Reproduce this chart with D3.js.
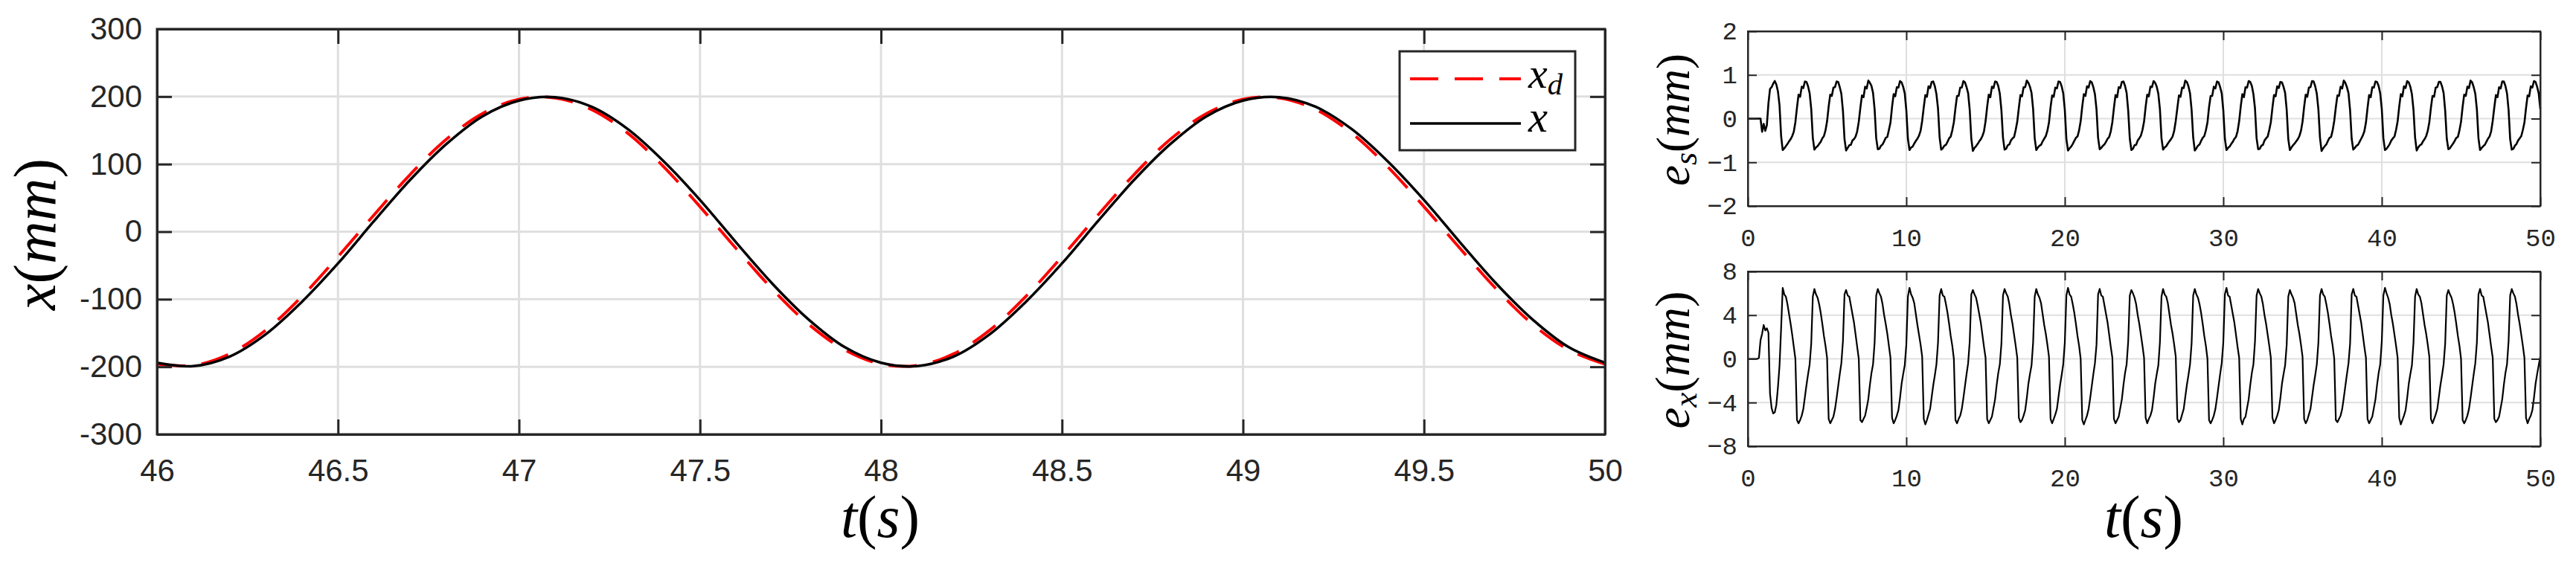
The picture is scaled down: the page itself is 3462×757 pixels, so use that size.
<!DOCTYPE html>
<html>
<head>
<meta charset="utf-8">
<script src="https://cdnjs.cloudflare.com/ajax/libs/d3/7.8.5/d3.min.js"></script>
<style>
  html, body { margin: 0; padding: 0; background: #fff; }
  svg { display: block; }
</style>
</head>
<body>
<svg id="chart" width="3462" height="757"></svg>
<script>
// ---- tracking panel (46 s .. 50 s, sampled every 0.1 s) ----
const trackTime = d3.range(41).map((i) => 46 + i / 10);
const xDesired = [
  -196, -198, -181, -146, -96, -37, 25, 85, 137, 175,
  196, 198, 181, 146, 96, 37, -25, -85, -137, -175,
  -196, -198, -181, -146, -96, -37, 25, 85, 137, 175,
  196, 198, 181, 146, 96, 37, -25, -85, -137, -175,
  -196,
];
const xActual = [
  -194, -199, -185, -152, -104, -47, 16, 77, 130, 171,
  194, 199, 185, 152, 104, 47, -16, -77, -130, -171,
  -194, -199, -185, -152, -104, -47, 16, 77, 130, 171,
  194, 199, 185, 152, 104, 47, -16, -77, -130, -171,
  -194,
];
const trackTicksX = [46, 46.5, 47, 47.5, 48, 48.5, 49, 49.5, 50];
const trackTicksY = [-300, -200, -100, 0, 100, 200, 300];

// ---- error panels (0 s .. 50 s, sampled every 0.1 s, one row = 2 s) ----
const errTime = d3.range(501).map((i) => i / 10);
const esValues = [
  0, 0, 0, 0, 0, 0, 0, 0, 0, -0.30, -0.12, -0.28, -0.15, 0.35, 0.68, 0.72, 0.80, 0.86, 0.78, 0.62,
  0.30, -0.40, -0.72, -0.68, -0.63, -0.58, -0.52, -0.47, -0.40, -0.30, -0.08, 0.25, 0.55, 0.50, 0.73, 0.70, 0.85, 0.84, 0.74, 0.58,
  0.22, -0.44, -0.71, -0.66, -0.63, -0.58, -0.53, -0.45, -0.40, -0.27, -0.06, 0.28, 0.55, 0.52, 0.71, 0.72, 0.85, 0.84, 0.72, 0.57,
  0.18, -0.47, -0.73, -0.67, -0.61, -0.60, -0.50, -0.47, -0.41, -0.29, -0.07, 0.25, 0.53, 0.49, 0.73, 0.69, 0.87, 0.82, 0.75, 0.59,
  0.21, -0.45, -0.70, -0.69, -0.62, -0.59, -0.52, -0.44, -0.42, -0.26, -0.09, 0.27, 0.56, 0.51, 0.72, 0.71, 0.86, 0.83, 0.73, 0.58,
  0.19, -0.46, -0.72, -0.66, -0.64, -0.57, -0.51, -0.46, -0.39, -0.28, -0.05, 0.26, 0.54, 0.50, 0.74, 0.70, 0.84, 0.85, 0.74, 0.56,
  0.23, -0.43, -0.71, -0.68, -0.62, -0.60, -0.53, -0.45, -0.41, -0.27, -0.08, 0.24, 0.52, 0.52, 0.71, 0.71, 0.86, 0.83, 0.72, 0.58,
  0.20, -0.46, -0.74, -0.67, -0.63, -0.58, -0.52, -0.47, -0.40, -0.29, -0.06, 0.27, 0.55, 0.49, 0.73, 0.70, 0.85, 0.84, 0.75, 0.57,
  0.19, -0.44, -0.71, -0.69, -0.61, -0.59, -0.50, -0.45, -0.42, -0.26, -0.07, 0.25, 0.54, 0.51, 0.72, 0.72, 0.87, 0.82, 0.73, 0.59,
  0.22, -0.45, -0.72, -0.66, -0.62, -0.60, -0.52, -0.46, -0.40, -0.28, -0.09, 0.26, 0.53, 0.50, 0.71, 0.69, 0.85, 0.84, 0.74, 0.58,
  0.20, -0.47, -0.73, -0.68, -0.64, -0.58, -0.51, -0.44, -0.41, -0.27, -0.06, 0.28, 0.56, 0.52, 0.74, 0.71, 0.86, 0.83, 0.72, 0.56,
  0.21, -0.44, -0.70, -0.67, -0.62, -0.59, -0.53, -0.46, -0.42, -0.29, -0.08, 0.25, 0.54, 0.49, 0.72, 0.70, 0.84, 0.85, 0.75, 0.59,
  0.18, -0.46, -0.72, -0.69, -0.61, -0.60, -0.50, -0.45, -0.39, -0.26, -0.07, 0.27, 0.55, 0.51, 0.73, 0.72, 0.86, 0.82, 0.73, 0.57,
  0.22, -0.45, -0.71, -0.66, -0.63, -0.57, -0.52, -0.47, -0.41, -0.28, -0.05, 0.24, 0.53, 0.50, 0.71, 0.70, 0.87, 0.84, 0.74, 0.58,
  0.20, -0.43, -0.73, -0.68, -0.62, -0.59, -0.51, -0.44, -0.40, -0.27, -0.09, 0.26, 0.52, 0.52, 0.73, 0.69, 0.85, 0.83, 0.72, 0.58,
  0.19, -0.46, -0.72, -0.67, -0.64, -0.58, -0.53, -0.46, -0.42, -0.29, -0.06, 0.28, 0.56, 0.49, 0.72, 0.71, 0.86, 0.84, 0.75, 0.56,
  0.23, -0.45, -0.70, -0.69, -0.62, -0.60, -0.50, -0.45, -0.41, -0.26, -0.08, 0.25, 0.54, 0.51, 0.74, 0.70, 0.84, 0.83, 0.73, 0.59,
  0.20, -0.47, -0.72, -0.66, -0.61, -0.57, -0.52, -0.47, -0.40, -0.28, -0.07, 0.27, 0.55, 0.50, 0.71, 0.72, 0.86, 0.85, 0.74, 0.57,
  0.21, -0.44, -0.74, -0.68, -0.63, -0.59, -0.51, -0.44, -0.42, -0.27, -0.05, 0.26, 0.53, 0.52, 0.73, 0.69, 0.87, 0.82, 0.72, 0.58,
  0.19, -0.46, -0.71, -0.67, -0.62, -0.60, -0.53, -0.46, -0.39, -0.29, -0.09, 0.24, 0.54, 0.49, 0.72, 0.71, 0.85, 0.84, 0.75, 0.58,
  0.22, -0.45, -0.72, -0.69, -0.64, -0.58, -0.50, -0.45, -0.41, -0.26, -0.06, 0.28, 0.56, 0.51, 0.74, 0.70, 0.86, 0.83, 0.73, 0.56,
  0.20, -0.43, -0.73, -0.66, -0.61, -0.59, -0.52, -0.47, -0.40, -0.28, -0.08, 0.25, 0.52, 0.50, 0.71, 0.72, 0.84, 0.84, 0.74, 0.59,
  0.18, -0.46, -0.70, -0.68, -0.62, -0.57, -0.51, -0.44, -0.42, -0.27, -0.07, 0.27, 0.55, 0.52, 0.73, 0.70, 0.87, 0.83, 0.72, 0.57,
  0.21, -0.45, -0.72, -0.67, -0.63, -0.60, -0.53, -0.46, -0.41, -0.29, -0.05, 0.26, 0.54, 0.49, 0.72, 0.69, 0.85, 0.85, 0.75, 0.58,
  0.20, -0.47, -0.71, -0.69, -0.62, -0.58, -0.50, -0.45, -0.40, -0.26, -0.09, 0.24, 0.53, 0.51, 0.74, 0.71, 0.86, 0.84, 0.73, 0.58,
  0.22,
];
const exValues = [
  0, 0, 0, 0, 0, 0, 0, 0.1, 1.7, 2.3, 3.1, 2.6, 2.8, 2.4, -3.2, -4.5, -5.0, -4.9, -4.2, -2.6,
  -0.6, 2.8, 6.5, 5.9, 5.7, 5.0, 4.1, 3.2, 2.2, 1.1, 0.0, -5.6, -5.9, -5.6, -5.2, -4.6, -3.5, -2.4, -1.4, -0.5,
  1.4, 5.7, 6.4, 5.9, 5.6, 5.0, 4.2, 3.2, 2.1, 1.2, 0.1, -5.5, -5.9, -5.6, -5.3, -4.6, -3.6, -2.5, -1.4, -0.4,
  1.6, 5.9, 6.3, 5.8, 5.7, 4.9, 4.1, 3.3, 2.2, 1.1, 0.0, -5.6, -5.8, -5.5, -5.2, -4.5, -3.7, -2.4, -1.3, -0.5,
  1.5, 5.8, 6.4, 6.0, 5.7, 5.0, 4.0, 3.2, 2.3, 1.2, 0.1, -5.4, -5.9, -5.6, -5.2, -4.7, -3.6, -2.3, -1.4, -0.6,
  1.3, 5.7, 6.5, 5.9, 5.6, 5.1, 4.1, 3.1, 2.2, 1.3, 0.2, -5.5, -6.0, -5.6, -5.1, -4.6, -3.5, -2.4, -1.5, -0.5,
  1.5, 5.8, 6.4, 5.8, 5.7, 5.0, 4.2, 3.2, 2.1, 1.2, 0.0, -5.6, -5.9, -5.5, -5.2, -4.6, -3.6, -2.5, -1.4, -0.4,
  1.6, 5.9, 6.3, 5.9, 5.6, 4.9, 4.1, 3.3, 2.2, 1.1, 0.1, -5.5, -5.9, -5.6, -5.3, -4.5, -3.7, -2.4, -1.3, -0.5,
  1.4, 5.8, 6.4, 6.0, 5.7, 5.0, 4.0, 3.2, 2.2, 1.2, 0.1, -5.4, -5.8, -5.6, -5.2, -4.7, -3.6, -2.3, -1.4, -0.6,
  1.5, 5.7, 6.4, 5.9, 5.6, 5.1, 4.1, 3.1, 2.3, 1.3, 0.2, -5.5, -5.9, -5.5, -5.1, -4.6, -3.5, -2.4, -1.5, -0.5,
  1.5, 5.8, 6.5, 5.9, 5.7, 5.0, 4.2, 3.2, 2.1, 1.2, 0.0, -5.6, -6.0, -5.6, -5.2, -4.6, -3.6, -2.5, -1.4, -0.4,
  1.3, 5.9, 6.4, 5.8, 5.7, 4.9, 4.1, 3.3, 2.2, 1.1, 0.1, -5.5, -5.9, -5.6, -5.3, -4.5, -3.7, -2.4, -1.3, -0.5,
  1.6, 5.8, 6.3, 6.0, 5.6, 5.0, 4.0, 3.2, 2.2, 1.2, 0.1, -5.4, -5.9, -5.5, -5.2, -4.7, -3.6, -2.3, -1.4, -0.6,
  1.5, 5.7, 6.4, 5.9, 5.7, 5.1, 4.1, 3.1, 2.3, 1.3, 0.2, -5.5, -5.8, -5.6, -5.1, -4.6, -3.5, -2.4, -1.5, -0.5,
  1.4, 5.8, 6.4, 5.9, 5.6, 5.0, 4.2, 3.2, 2.1, 1.2, 0.0, -5.6, -5.9, -5.6, -5.2, -4.6, -3.6, -2.5, -1.4, -0.4,
  1.5, 5.9, 6.5, 5.8, 5.7, 4.9, 4.1, 3.3, 2.2, 1.1, 0.1, -5.5, -6.0, -5.5, -5.3, -4.5, -3.7, -2.4, -1.3, -0.5,
  1.6, 5.8, 6.4, 6.0, 5.7, 5.0, 4.0, 3.2, 2.2, 1.2, 0.1, -5.4, -5.9, -5.6, -5.2, -4.7, -3.6, -2.3, -1.4, -0.6,
  1.3, 5.7, 6.3, 5.9, 5.6, 5.1, 4.1, 3.1, 2.3, 1.3, 0.2, -5.5, -5.9, -5.6, -5.1, -4.6, -3.5, -2.4, -1.5, -0.5,
  1.5, 5.8, 6.4, 5.9, 5.7, 5.0, 4.2, 3.2, 2.1, 1.2, 0.0, -5.6, -5.8, -5.5, -5.2, -4.6, -3.6, -2.5, -1.4, -0.4,
  1.4, 5.9, 6.4, 5.8, 5.7, 4.9, 4.1, 3.3, 2.2, 1.1, 0.1, -5.5, -5.9, -5.6, -5.3, -4.5, -3.7, -2.4, -1.3, -0.5,
  1.6, 5.8, 6.5, 6.0, 5.6, 5.0, 4.0, 3.2, 2.2, 1.2, 0.1, -5.4, -6.0, -5.6, -5.2, -4.7, -3.6, -2.3, -1.4, -0.6,
  1.5, 5.7, 6.4, 5.9, 5.7, 5.1, 4.1, 3.1, 2.3, 1.3, 0.2, -5.5, -5.9, -5.5, -5.1, -4.6, -3.5, -2.4, -1.5, -0.5,
  1.4, 5.8, 6.3, 5.9, 5.6, 5.0, 4.2, 3.2, 2.1, 1.2, 0.0, -5.6, -5.9, -5.6, -5.2, -4.6, -3.6, -2.5, -1.4, -0.4,
  1.5, 5.9, 6.4, 5.8, 5.7, 4.9, 4.1, 3.3, 2.2, 1.1, 0.1, -5.5, -5.8, -5.6, -5.3, -4.5, -3.7, -2.4, -1.3, -0.5,
  1.6, 5.8, 6.4, 6.0, 5.7, 5.0, 4.0, 3.2, 2.2, 1.2, 0.1, -5.4, -5.9, -5.5, -5.2, -4.7, -3.6, -2.3, -1.4, -0.6,
  0.2,
];
const errTicksX = [0, 10, 20, 30, 40, 50];
const esTicksY = [-2, -1, 0, 1, 2];
const exTicksY = [-8, -4, 0, 4, 8];

const AXIS_COLOR = "#262626";
const GRID_COLOR = "#dfdfdf";
const SANS = "'Liberation Sans', Arial, sans-serif";
const MONO = "'Liberation Mono', 'DejaVu Sans Mono', monospace";
const SERIF = "'Liberation Serif', 'DejaVu Serif', serif";

const svg = d3.select("#chart");

const trackX = d3.scaleLinear().domain([46, 50]).range([211, 2157]);
const trackY = d3.scaleLinear().domain([-300, 300]).range([584, 39]);
const errX = d3.scaleLinear().domain([0, 50]).range([2349, 3414]);
const esY = d3.scaleLinear().domain([-2, 2]).range([277, 42]);
const exY = d3.scaleLinear().domain([-8, 8]).range([600, 365]);

// grid lines go under the data; the box and ticks are drawn later on top
function drawGrid(x, y, xTicks, yTicks, width) {
  const [x0, x1] = x.range();
  const [yb, yt] = y.range();
  const g = svg.append("g").attr("stroke", GRID_COLOR).attr("stroke-width", width);
  g.selectAll(null)
    .data(xTicks.slice(1, -1))
    .join("line")
    .attr("x1", (d) => x(d)).attr("x2", (d) => x(d))
    .attr("y1", yb).attr("y2", yt);
  g.selectAll(null)
    .data(yTicks.slice(1, -1))
    .join("line")
    .attr("x1", x0).attr("x2", x1)
    .attr("y1", (d) => y(d)).attr("y2", (d) => y(d));
}

function drawFrame(x, y, opt) {
  const [x0, x1] = x.range();
  const [yb, yt] = y.range();
  const style = (sel) => {
    sel.attr("font-family", opt.font).attr("font-size", opt.fontSize).style("color", AXIS_COLOR);
    sel.selectAll("path.domain").attr("stroke-width", opt.boxWidth);
    sel.selectAll(".tick line").attr("stroke-width", opt.boxWidth);
  };

  svg.append("g").attr("transform", `translate(0,${yb})`)
    .call(d3.axisBottom(x).tickValues(opt.xTicks).tickSize(-opt.tickLen).tickSizeOuter(0)
      .tickPadding(opt.xPad).tickFormat(opt.xFormat))
    .call(style);
  svg.append("g").attr("transform", `translate(${x0},0)`)
    .call(d3.axisLeft(y).tickValues(opt.yTicks).tickSize(-opt.tickLen).tickSizeOuter(0)
      .tickPadding(opt.yPad).tickFormat(opt.yFormat))
    .call(style);
  svg.append("g").attr("transform", `translate(0,${yt})`)
    .call(d3.axisTop(x).tickValues(opt.xTicks).tickSize(-opt.tickLen).tickSizeOuter(0).tickFormat(""))
    .call(style);
  svg.append("g").attr("transform", `translate(${x1},0)`)
    .call(d3.axisRight(y).tickValues(opt.yTicks).tickSize(-opt.tickLen).tickSizeOuter(0).tickFormat(""))
    .call(style);

  svg.append("rect")
    .attr("x", x0).attr("y", yt)
    .attr("width", x1 - x0).attr("height", yb - yt)
    .attr("fill", "none")
    .attr("stroke", AXIS_COLOR)
    .attr("stroke-width", opt.boxWidth);
}

// math-style label: italic variables, upright parentheses.
// The font size is tuned so the label spans `span` pixels, as in the figure.
function mathLabel(parent, parts, span) {
  const text = parent.append("text")
    .attr("font-family", SERIF)
    .attr("font-size", 60)
    .attr("fill", "#000")
    .attr("text-anchor", "middle");
  parts.forEach((p) => {
    const ts = text.append("tspan").text(p.t).attr("font-style", p.italic ? "italic" : "normal");
    if (p.sub) ts.attr("font-size", "0.7em").attr("baseline-shift", "-22%");
  });
  const len = text.node().getComputedTextLength();
  if (len > 0) text.attr("font-size", (60 * span) / len);
  return text;
}

const unitParts = [
  { t: "(" },
  { t: "mm", italic: true },
  { t: ")" },
];
const timeParts = [{ t: "t", italic: true }, { t: "(" }, { t: "s", italic: true }, { t: ")" }];

// ---- left: tracking ----
drawGrid(trackX, trackY, trackTicksX, trackTicksY, 3);

const trackLine = (vals) =>
  d3.line()
    .x((d, i) => trackX(trackTime[i]))
    .y((d) => trackY(d))
    .curve(d3.curveCatmullRom)(vals);

svg.append("path")
  .attr("d", trackLine(xDesired))
  .attr("fill", "none")
  .attr("stroke", "#ff0000")
  .attr("stroke-width", 4)
  .attr("stroke-dasharray", "38,22");
svg.append("path")
  .attr("d", trackLine(xActual))
  .attr("fill", "none")
  .attr("stroke", "#000")
  .attr("stroke-width", 3.5);

drawFrame(trackX, trackY, {
  xTicks: trackTicksX, yTicks: trackTicksY,
  tickLen: 20, boxWidth: 3, font: SANS, fontSize: 42,
  xPad: 33, yPad: 20,
  xFormat: (d) => String(d), yFormat: (d) => String(d),
});

// legend
const legend = svg.append("g");
legend.append("rect")
  .attr("x", 1881).attr("y", 69).attr("width", 236).attr("height", 133)
  .attr("fill", "#fff").attr("stroke", AXIS_COLOR).attr("stroke-width", 3);
legend.append("line")
  .attr("x1", 1895).attr("x2", 2044).attr("y1", 106).attr("y2", 106)
  .attr("stroke", "#ff0000").attr("stroke-width", 4).attr("stroke-dasharray", "38,22");
legend.append("line")
  .attr("x1", 1895).attr("x2", 2044).attr("y1", 166).attr("y2", 166)
  .attr("stroke", "#000").attr("stroke-width", 3.5);
mathLabel(legend, [{ t: "x", italic: true }, { t: "d", italic: true, sub: true }], 46)
  .attr("text-anchor", "start").attr("x", 2054).attr("y", 118);
mathLabel(legend, [{ t: "x", italic: true }], 26)
  .attr("text-anchor", "start").attr("x", 2054).attr("y", 177);

mathLabel(svg, timeParts, 106).attr("x", 1183).attr("y", 722);
mathLabel(svg, [{ t: "x", italic: true }, ...unitParts], 204)
  .attr("transform", "translate(74,315) rotate(-90)");

// ---- right: errors ----
const errLine = (y, vals) =>
  d3.line()
    .x((d, i) => errX(errTime[i]))
    .y((d) => y(d))(vals);

const errFrame = {
  xTicks: errTicksX, tickLen: 12, boxWidth: 2, font: MONO, fontSize: 34,
  xPad: 30, yPad: 14,
  xFormat: (d) => String(d), yFormat: d3.format("d"),
};

drawGrid(errX, esY, errTicksX, esTicksY, 2);
svg.append("path")
  .attr("d", errLine(esY, esValues))
  .attr("fill", "none").attr("stroke", "#000").attr("stroke-width", 2.6)
  .attr("stroke-linejoin", "round");
drawFrame(errX, esY, { ...errFrame, yTicks: esTicksY });

drawGrid(errX, exY, errTicksX, exTicksY, 2);
svg.append("path")
  .attr("d", errLine(exY, exValues))
  .attr("fill", "none").attr("stroke", "#000").attr("stroke-width", 2.2)
  .attr("stroke-linejoin", "round");
drawFrame(errX, exY, { ...errFrame, yTicks: exTicksY });

mathLabel(svg, [{ t: "e", italic: true }, { t: "s", italic: true, sub: true }, ...unitParts], 178)
  .attr("transform", "translate(2270,161) rotate(-90)");
mathLabel(svg, [{ t: "e", italic: true }, { t: "x", italic: true, sub: true }, ...unitParts], 185)
  .attr("transform", "translate(2270,484) rotate(-90)");
mathLabel(svg, timeParts, 106).attr("x", 2881).attr("y", 722);
</script>
</body>
</html>
